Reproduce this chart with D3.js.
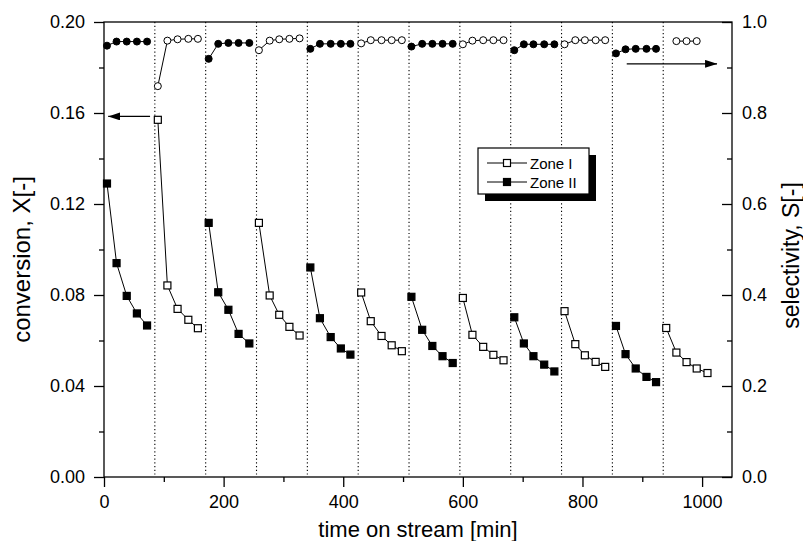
<!DOCTYPE html>
<html>
<head>
<meta charset="utf-8">
<script src="https://cdn.jsdelivr.net/npm/d3@7"></script>
<style>
  body { margin: 0; background: #fff; }
  text { font-family: "Liberation Sans", Arial, sans-serif; fill: #000; }
</style>
</head>
<body>
<svg id="svg" width="803" height="541"></svg>
<script>
// run boundaries (dotted lines), minutes
const runBounds = [85, 170, 255, 340, 425, 510, 595, 680, 765, 850, 935];

// Zone II runs (filled symbols)
const timeII = [
  [5, 21, 38, 55, 72],
  [175, 191, 208, 225, 243],
  [345, 361, 379, 396, 412],
  [514, 532, 549, 566, 583],
  [686, 702, 718, 736, 753],
  [856, 872, 889, 907, 923]
];
const convII = [
  [0.129, 0.094, 0.0796, 0.0719, 0.0666],
  [0.1117, 0.0812, 0.0735, 0.0629, 0.0587],
  [0.0921, 0.0698, 0.0615, 0.0565, 0.0538],
  [0.0792, 0.0647, 0.0576, 0.0531, 0.0501],
  [0.0702, 0.0587, 0.0531, 0.0494, 0.0464],
  [0.0664, 0.054, 0.0477, 0.044, 0.0417]
];
const selII = [
  [0.948, 0.957, 0.957, 0.957, 0.957],
  [0.919, 0.952, 0.954, 0.954, 0.954],
  [0.941, 0.952, 0.952, 0.952, 0.952],
  [0.946, 0.952, 0.952, 0.952, 0.952],
  [0.938, 0.951, 0.951, 0.951, 0.951],
  [0.931, 0.940, 0.941, 0.941, 0.941]
];

// Zone I runs (open symbols)
const timeI = [
  [90, 106, 123, 141, 157],
  [259, 277, 293, 310, 327],
  [430, 446, 464, 481, 498],
  [600, 616, 634, 651, 668],
  [770, 788, 804, 822, 838],
  [940, 957, 974, 991, 1009]
];
const convI = [
  [0.157, 0.0842, 0.0739, 0.0691, 0.0654],
  [0.1117, 0.0798, 0.0713, 0.066, 0.0622],
  [0.0811, 0.0685, 0.062, 0.0579, 0.0553],
  [0.0787, 0.0625, 0.0572, 0.0537, 0.0513],
  [0.0729, 0.0584, 0.0535, 0.0506, 0.0484],
  [0.0655, 0.0547, 0.0505, 0.0477, 0.0457]
];
const selI = [
  [0.859, 0.959, 0.962, 0.963, 0.963],
  [0.938, 0.959, 0.962, 0.963, 0.964],
  [0.953, 0.960, 0.960, 0.960, 0.960],
  [0.951, 0.959, 0.960, 0.960, 0.960],
  [0.951, 0.960, 0.960, 0.960, 0.960],
  [null, 0.958, 0.958, 0.958, null]
];

const xTicks = [0, 200, 400, 600, 800, 1000];
const xMinor = [100, 300, 500, 700, 900];
const convTicks = [0, 0.04, 0.08, 0.12, 0.16, 0.20];
const convMinor = [0.02, 0.06, 0.10, 0.14, 0.18];
const selTicks = [0, 0.2, 0.4, 0.6, 0.8, 1.0];
const selMinor = [0.1, 0.3, 0.5, 0.7, 0.9];
const legendItems = ["Zone I", "Zone II"];

const svg = d3.select("#svg");
const pL = 104, pR = 732, pT = 22, pB = 477;

const x = d3.scaleLinear().domain([0, 1050]).range([pL, pR]);
const yC = d3.scaleLinear().domain([0, 0.2]).range([pB, pT]);
const yS = d3.scaleLinear().domain([0, 1.0]).range([pB, pT]);

// dotted run boundaries
svg.append("g")
  .selectAll("line")
  .data(runBounds)
  .join("line")
  .attr("x1", d => x(d)).attr("x2", d => x(d))
  .attr("y1", pT).attr("y2", pB)
  .attr("stroke", "#000")
  .attr("stroke-width", 1.1)
  .attr("stroke-dasharray", "1.2,2.5");

// axes
function styleAxis(g) {
  g.select(".domain").remove();
  g.selectAll("line").attr("stroke", "#000").attr("stroke-width", 1.3);
  g.selectAll("text").style("font-size", "18px");
}

svg.append("g")
  .attr("transform", `translate(0,${pB})`)
  .call(d3.axisBottom(x).tickValues(xTicks).tickSize(10).tickPadding(8).tickFormat(d3.format("d")))
  .call(styleAxis);
svg.append("g")
  .attr("transform", `translate(0,${pB})`)
  .call(d3.axisBottom(x).tickValues(xMinor).tickSize(5).tickFormat(""))
  .call(styleAxis);

svg.append("g")
  .attr("transform", `translate(${pL},0)`)
  .call(d3.axisLeft(yC).tickValues(convTicks).tickSize(10).tickPadding(9).tickFormat(d3.format(".2f")))
  .call(styleAxis);
svg.append("g")
  .attr("transform", `translate(${pL},0)`)
  .call(d3.axisLeft(yC).tickValues(convMinor).tickSize(5).tickFormat(""))
  .call(styleAxis);

svg.append("g")
  .attr("transform", `translate(${pR},0)`)
  .call(d3.axisRight(yS).tickValues(selTicks).tickSizeInner(-10).tickSizeOuter(0).tickPadding(10).tickFormat(d3.format(".1f")))
  .call(styleAxis);
svg.append("g")
  .attr("transform", `translate(${pR},0)`)
  .call(d3.axisRight(yS).tickValues(selMinor).tickSizeInner(-5).tickSizeOuter(0).tickFormat(""))
  .call(styleAxis);

// frame
svg.append("rect")
  .attr("x", pL).attr("y", pT)
  .attr("width", pR - pL).attr("height", pB - pT)
  .attr("fill", "none").attr("stroke", "#000").attr("stroke-width", 1.3);

// axis titles
svg.append("text")
  .attr("x", (pL + pR) / 2).attr("y", 537)
  .attr("text-anchor", "middle")
  .style("font-size", "22px")
  .text("time on stream [min]");
svg.append("text")
  .attr("transform", `translate(30,${(pT + pB) / 2 + 10}) rotate(-90)`)
  .attr("text-anchor", "middle")
  .style("font-size", "24px")
  .text("conversion, X[-]");
svg.append("text")
  .attr("transform", `translate(799,${(pT + pB) / 2 + 6}) rotate(-90)`)
  .attr("text-anchor", "middle")
  .style("font-size", "23px")
  .text("selectivity, S[-]");

// series drawing
function drawRuns(times, vals, yScale, shape, filled) {
  const runs = times.map((t, i) => t.map((tt, j) => ({ t: tt, v: vals[i][j] })).filter(d => d.v != null));
  const line = d3.line().x(d => x(d.t)).y(d => yScale(d.v));
  const g = svg.append("g");
  g.selectAll("path.run")
    .data(runs)
    .join("path")
    .attr("class", "run")
    .attr("d", line)
    .attr("fill", "none")
    .attr("stroke", "#000")
    .attr("stroke-width", 1);
  const pts = runs.flat();
  if (shape === "square") {
    g.selectAll("rect")
      .data(pts)
      .join("rect")
      .attr("x", d => x(d.t) - 3.5).attr("y", d => yScale(d.v) - 3.5)
      .attr("width", 7).attr("height", 7)
      .attr("fill", filled ? "#000" : "#fff")
      .attr("stroke", "#000").attr("stroke-width", 1.2);
  } else {
    g.selectAll("circle")
      .data(pts)
      .join("circle")
      .attr("cx", d => x(d.t)).attr("cy", d => yScale(d.v))
      .attr("r", 3.5)
      .attr("fill", filled ? "#000" : "#fff")
      .attr("stroke", "#000").attr("stroke-width", 1);
  }
}

drawRuns(timeII, convII, yC, "square", true);
drawRuns(timeI, convI, yC, "square", false);
drawRuns(timeII, selII, yS, "circle", true);
drawRuns(timeI, selI, yS, "circle", false);

// arrows
svg.append("defs").append("marker")
  .attr("id", "head")
  .attr("viewBox", "0 0 12 8")
  .attr("refX", 12).attr("refY", 4)
  .attr("markerWidth", 12).attr("markerHeight", 8)
  .attr("markerUnits", "userSpaceOnUse")
  .attr("orient", "auto")
  .append("path")
  .attr("d", "M0,0 L12,4 L0,8 Z")
  .attr("fill", "#000");

svg.append("line")
  .attr("x1", x(77)).attr("x2", x(7))
  .attr("y1", yC(0.1585)).attr("y2", yC(0.1585))
  .attr("stroke", "#000").attr("stroke-width", 1.2)
  .attr("marker-end", "url(#head)");
svg.append("line")
  .attr("x1", x(874)).attr("x2", x(1025))
  .attr("y1", yS(0.908)).attr("y2", yS(0.908))
  .attr("stroke", "#000").attr("stroke-width", 1.2)
  .attr("marker-end", "url(#head)");

// legend
const lg = svg.append("g").attr("transform", "translate(478,148)");
lg.append("rect")
  .attr("x", 7).attr("y", 7).attr("width", 111).attr("height", 46)
  .attr("fill", "#000");
lg.append("rect")
  .attr("x", 0).attr("y", 0).attr("width", 111).attr("height", 46)
  .attr("fill", "#fff").attr("stroke", "#000").attr("stroke-width", 1.2);
const rows = lg.selectAll("g.row")
  .data(legendItems)
  .join("g")
  .attr("class", "row")
  .attr("transform", (d, i) => `translate(0,${15 + i * 19})`);
rows.append("line")
  .attr("x1", 9).attr("x2", 49)
  .attr("stroke", "#000").attr("stroke-width", 1);
rows.append("rect")
  .attr("x", 25.5).attr("y", -3.5).attr("width", 7).attr("height", 7)
  .attr("fill", (d, i) => i === 0 ? "#fff" : "#000")
  .attr("stroke", "#000").attr("stroke-width", 1.2);
rows.append("text")
  .attr("x", 52).attr("y", 5.5)
  .style("font-size", "15px")
  .text(d => d);
</script>
</body>
</html>
